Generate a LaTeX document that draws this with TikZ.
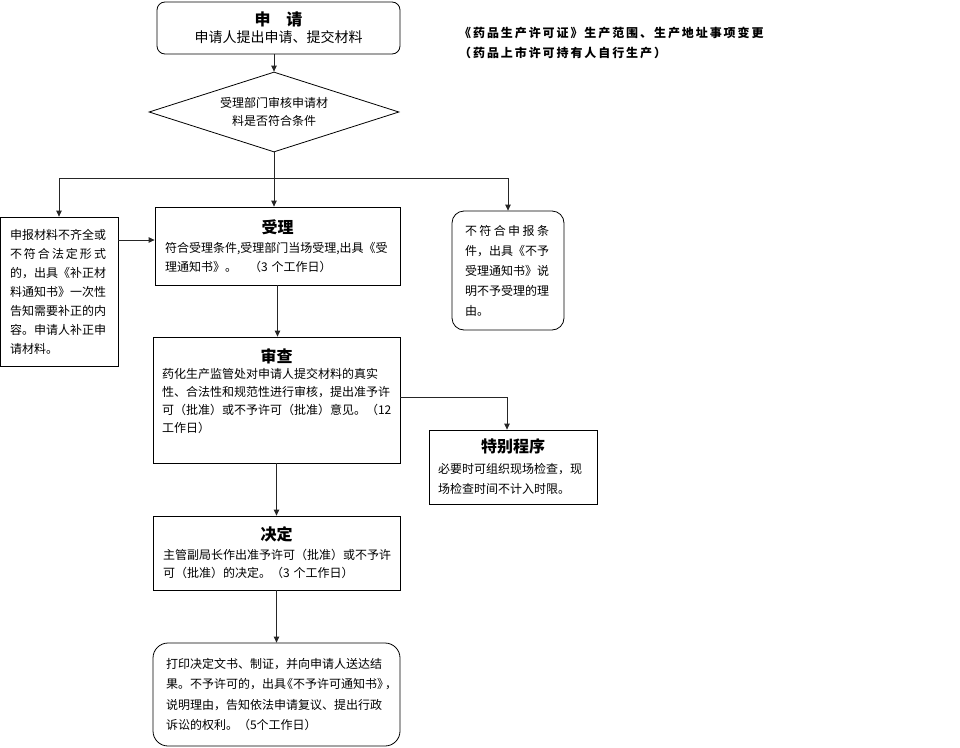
\documentclass[tikz,border=0pt]{standalone}
\usepackage{fontspec}
\setmainfont{Noto Sans CJK SC}
\newfontfamily\titlefont[LetterSpace=16]{Noto Sans CJK SC}
\usetikzlibrary{shapes.geometric,arrows.meta}
\newcommand{\boxttl}[1]{\makebox[\hsize][c]{\fontsize{16}{19}\selectfont\bfseries #1}}

\begin{document}
\begin{tikzpicture}[x=1pt,y=-1pt,
  box/.style={draw,line width=0.8pt,align=left,inner ysep=2pt,font=\fontsize{12}{19}\selectfont},
  arr/.style={draw=black!85,line width=0.8pt,-{Triangle[length=6pt,width=5.5pt]}}]
\useasboundingbox (0,0) rectangle (960,747);

\node[inner sep=0pt,anchor=north west,align=left,font=\titlefont\bfseries\fontsize{12}{20}\selectfont] (title) at (459,27)
  {《药品生产许可证》生产范围、生产地址事项变更\\（药品上市许可持有人自行生产）};

\node[box,rounded corners=8pt,align=center,minimum width=243,minimum height=52] (apply) at (278.5,28)
  {{\fontsize{16}{17}\selectfont\bfseries 申\quad 请}\\[-2pt]{\fontsize{14}{17}\selectfont 申请人提出申请、提交材料}};
\node[draw,diamond,aspect=3.2,line width=0.8pt,minimum width=250,minimum height=80,inner sep=0pt,align=center,font=\fontsize{12}{18}\selectfont] (check) at (274,112)
  {受理部门审核申请材\\料是否符合条件};
\coordinate (split) at (274,178);

\node[box,text width=98,minimum width=118,minimum height=149] (notfull) at (59,291.5)
  {申报材料不齐全或\\
   \leavevmode\hbox to 96pt{不\hfill 符\hfill 合\hfill 法\hfill 定\hfill 形\hfill 式}\\
   的，出具《补正材\\
   料通知书》一次性\\
   告知需要补正的内\\
   容。申请人补正申\\
   请材料。};
\node[box,text width=225,minimum width=245,minimum height=78] (accept) at (277.5,246)
  {\boxttl{受理}\\
   符合受理条件,受理部门当场受理,出具《受\\
   理通知书》。\quad（3 个工作日）};
\node[box,rounded corners=12pt,text width=86,inner xsep=13pt,minimum height=119,font=\fontsize{12}{20}\selectfont] (refuse) at (508,270.5)
  {\leavevmode\hbox to 84pt{不\hfill 符\hfill 合\hfill 申\hfill 报\hfill 条}\\
   件，出具《不予\\
   受理通知书》说\\
   明不予受理的理\\
   由。};

\node[box,text width=237,inner xsep=5pt,minimum height=126,font=\fontsize{12}{18}\selectfont] (review) at (276.5,400)
  {\boxttl{审查}\\[-2pt]
   \hspace{4pt}药化生产监管处对申请人提交材料的真实\\
   \hspace{4pt}性、合法性和规范性进行审核，提出准予许\\
   \hspace{4pt}可（批准）或不予许可（批准）意见。（12\\
   \hspace{4pt}工作日）\\ \mbox{}};
\node[box,text width=150,inner xsep=9pt,minimum height=74,font=\fontsize{12}{20.5}\selectfont] (special) at (513,467)
  {\boxttl{特别程序}\\
   必要时可组织现场检查，现\\
   场检查时间不计入时限。};

\node[box,text width=237,inner xsep=5pt,minimum height=74,font=\fontsize{12}{18.5}\selectfont] (decide) at (276.5,553)
  {\boxttl{决定}\\
   \hspace{5pt}主管副局长作出准予许可（批准）或不予许\\
   \hspace{5pt}可（批准）的决定。（3 个工作日）};
\node[box,rounded corners=15pt,text width=237,inner xsep=5pt,minimum height=103,font=\fontsize{12}{20.5}\selectfont] (result) at (276.5,694.5)
  {\hspace{8pt}打印决定文书、制证，并向申请人送达结\\
   \hspace{8pt}果。不予许可的，出具\kern-5pt《不予许可通知书》\kern-4pt，\\
   \hspace{8pt}说明理由，告知依法申请复议、提出行政\\
   \hspace{8pt}诉讼的权利。（5个工作日）};

\draw[arr] (apply.south -| check.north) -- (check.north);
\draw[draw=black!85,line width=0.8pt] (check.south) -- (split);
\draw[arr] (split) -| (notfull.north);
\draw[arr] (split) -- (split |- accept.north);
\draw[arr] (split) -| (refuse.north);
\coordinate (into) at ([yshift=6pt]accept.west);
\draw[arr] (notfull.east |- into) -- (into);
\draw[arr] (accept.south) -- (accept.south |- review.north);
\draw[arr] ([yshift=3pt]review.east) -| ([xshift=-6pt]special.north);
\draw[arr] (review.south) -- (decide.north);
\draw[arr] (decide.south) -- (result.north);
\end{tikzpicture}
\end{document}
